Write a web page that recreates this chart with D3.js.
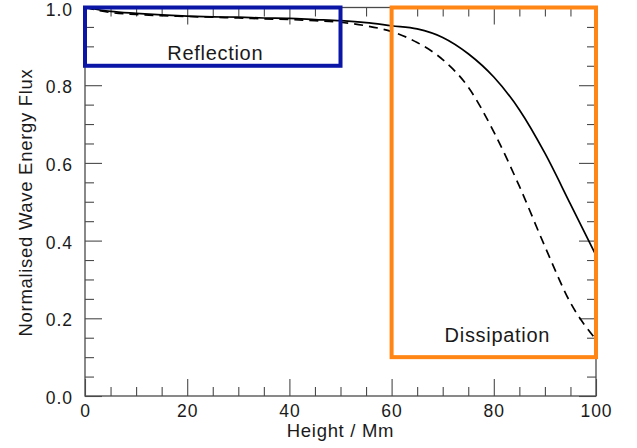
<!DOCTYPE html>
<html>
<head>
<meta charset="utf-8">
<script src="https://cdn.jsdelivr.net/npm/d3@7"></script>
<style>
  html, body { margin: 0; padding: 0; background: #fff; }
  svg { display: block; }
  text { font-family: "Liberation Sans", Arial, Helvetica, sans-serif; fill: #1a1a1a; }
</style>
</head>
<body>
<svg id="chart" width="637" height="448"></svg>
<script>
// ---- data ----
const heights    = [0, 5, 10, 15, 20, 25, 30, 35, 40, 45, 50, 55, 60, 65, 70, 75, 80, 85, 90, 95, 100];
const fluxSolid  = [1.000, 0.990, 0.985, 0.981, 0.978, 0.976, 0.975, 0.973, 0.972, 0.969, 0.966, 0.961, 0.953, 0.945, 0.923, 0.881, 0.821, 0.737, 0.625, 0.494, 0.362];
const fluxDashed = [1.000, 0.987, 0.982, 0.979, 0.977, 0.975, 0.973, 0.971, 0.969, 0.966, 0.962, 0.953, 0.938, 0.910, 0.866, 0.795, 0.680, 0.540, 0.385, 0.240, 0.145];
const xMajorTicks = [0, 20, 40, 60, 80, 100];
const xMinorTicks = [5, 10, 15, 25, 30, 35, 45, 50, 55, 65, 70, 75, 85, 90, 95];
const yMajorTicks = [0.0, 0.2, 0.4, 0.6, 0.8, 1.0];
const yMinorTicks = [0.05, 0.1, 0.15, 0.25, 0.3, 0.35, 0.45, 0.5, 0.55, 0.65, 0.7, 0.75, 0.85, 0.9, 0.95];
const regionLabels = ["Reflection", "Dissipation"];
const regionX = [[0, 50], [60, 100]];
const regionY = [[0.85, 1.0], [0.1, 1.0]];
const regionLabelAt = [[25.5, 0.866], [80.7, 0.138]];
const xTitle = "Height / Mm";
const yTitle = "Normalised Wave Energy Flux";

// ---- layout ----
const svg = d3.select("#chart");
const mLeft = 85, mRight = 596, mTop = 7.5, mBottom = 396;
const x = d3.scaleLinear().domain([0, 100]).range([mLeft, mRight]);
const y = d3.scaleLinear().domain([0, 1]).range([mBottom, mTop]);

const axisColor = "#4a4a4a";
const majorLen = 17, minorLen = 9;
const tickFont = "17.5px";
const titleFont = "18.5px";

function styleAxis(g) {
  g.select(".domain").remove();
  g.selectAll(".tick line").attr("stroke", axisColor).attr("stroke-width", 1.1);
  g.selectAll(".tick text").style("font-size", tickFont).style("letter-spacing", "1px").attr("fill", "#1a1a1a");
}

// bottom axis
svg.append("g").attr("transform", `translate(0,${mBottom})`)
  .call(d3.axisBottom(x).tickValues(xMajorTicks).tickSize(-majorLen).tickPadding(9).tickFormat(d3.format("d")))
  .call(styleAxis);
svg.append("g").attr("transform", `translate(0,${mBottom})`)
  .call(d3.axisBottom(x).tickValues(xMinorTicks).tickSize(-minorLen).tickFormat(""))
  .call(styleAxis);
// top axis
svg.append("g").attr("transform", `translate(0,${mTop})`)
  .call(d3.axisTop(x).tickValues(xMajorTicks).tickSize(-majorLen).tickFormat(""))
  .call(styleAxis);
svg.append("g").attr("transform", `translate(0,${mTop})`)
  .call(d3.axisTop(x).tickValues(xMinorTicks).tickSize(-minorLen).tickFormat(""))
  .call(styleAxis);
// left axis
svg.append("g").attr("transform", `translate(${mLeft},0)`)
  .call(d3.axisLeft(y).tickValues(yMajorTicks).tickSize(-majorLen).tickPadding(12).tickFormat(d3.format(".1f")))
  .call(styleAxis)
  .call(g => g.selectAll(".tick text").attr("dy", "0.43em"));
svg.append("g").attr("transform", `translate(${mLeft},0)`)
  .call(d3.axisLeft(y).tickValues(yMinorTicks).tickSize(-minorLen).tickFormat(""))
  .call(styleAxis);
// right axis
svg.append("g").attr("transform", `translate(${mRight},0)`)
  .call(d3.axisRight(y).tickValues(yMajorTicks).tickSize(-majorLen).tickFormat(""))
  .call(styleAxis);
svg.append("g").attr("transform", `translate(${mRight},0)`)
  .call(d3.axisRight(y).tickValues(yMinorTicks).tickSize(-minorLen).tickFormat(""))
  .call(styleAxis);

// frame
svg.append("rect")
  .attr("x", mLeft).attr("y", mTop)
  .attr("width", mRight - mLeft).attr("height", mBottom - mTop)
  .attr("fill", "none").attr("stroke", axisColor).attr("stroke-width", 1.3);

// curves
const line = d3.line().x((d, i) => x(heights[i])).y(d => y(d)).curve(d3.curveMonotoneX);
svg.append("path").datum(fluxSolid)
  .attr("d", line).attr("fill", "none").attr("stroke", "#000").attr("stroke-width", 1.7);
svg.append("path").datum(fluxDashed)
  .attr("d", line).attr("fill", "none").attr("stroke", "#000").attr("stroke-width", 1.7)
  .attr("stroke-dasharray", "9,6");

// region boxes
const boxColors = ["#0b16a6", "#ff8614"];
regionLabels.forEach((lbl, i) => {
  svg.append("rect")
    .attr("x", x(regionX[i][0])).attr("y", y(regionY[i][1]))
    .attr("width", x(regionX[i][1]) - x(regionX[i][0]))
    .attr("height", y(regionY[i][0]) - y(regionY[i][1]))
    .attr("fill", "none").attr("stroke", boxColors[i]).attr("stroke-width", 4);
  svg.append("text")
    .attr("x", x(regionLabelAt[i][0])).attr("y", y(regionLabelAt[i][1]))
    .attr("text-anchor", "middle")
    .style("font-size", "20px").style("letter-spacing", "0.7px")
    .text(lbl);
});

// axis titles
svg.append("text")
  .attr("x", (mLeft + mRight) / 2).attr("y", 436.5)
  .attr("text-anchor", "middle")
  .style("font-size", titleFont).style("letter-spacing", "0.7px")
  .text(xTitle);
svg.append("text")
  .attr("transform", `translate(31.5,${202.5}) rotate(-90)`)
  .attr("text-anchor", "middle")
  .style("font-size", titleFont).style("letter-spacing", "0.7px")
  .text(yTitle);
</script>
</body>
</html>
